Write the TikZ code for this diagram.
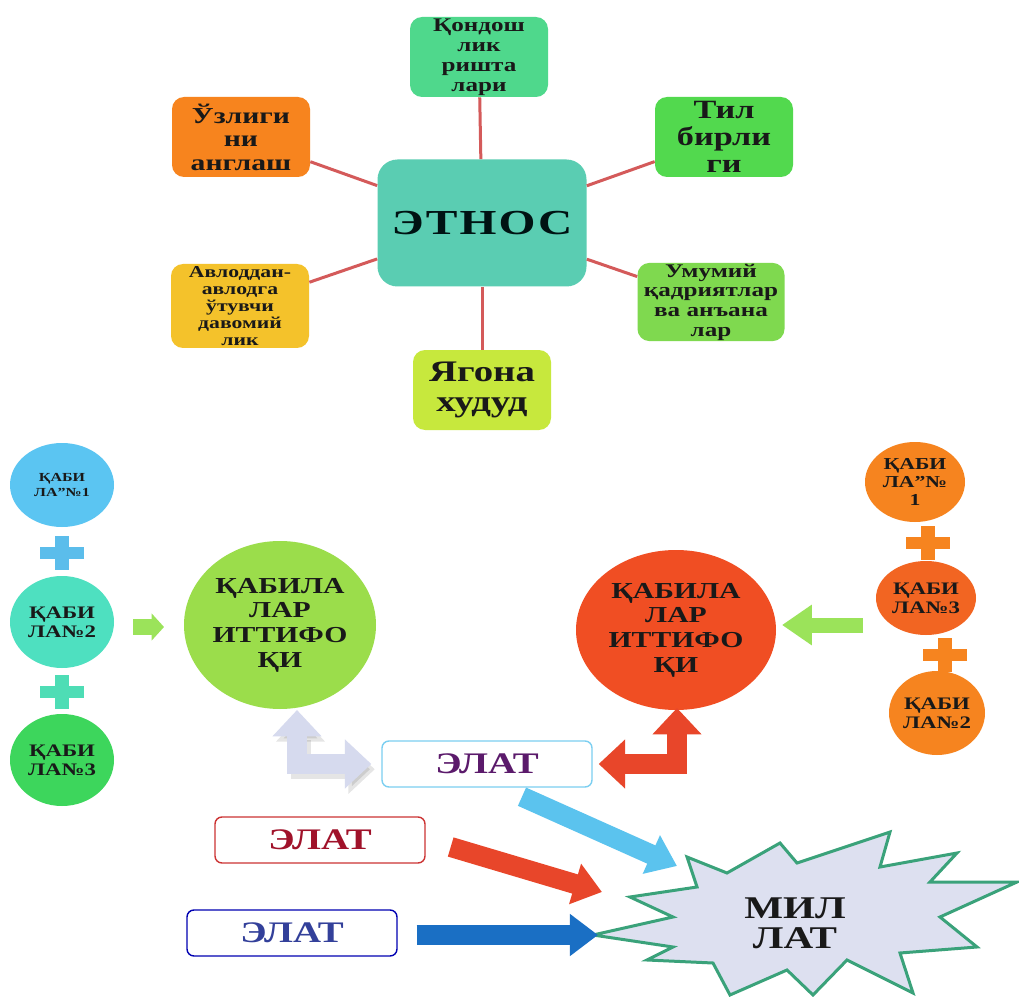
\documentclass[tikz,border=0pt]{standalone}
\usepackage{fontspec}
\newfontfamily\uzfont{Liberation Serif}[FakeStretch=1.3]
\newfontfamily\uzwide{Liberation Serif}[FakeStretch=1.35,LetterSpace=6]
\usetikzlibrary{arrows.meta,positioning,shapes.geometric}
\definecolor{ethnos}{HTML}{5ACDB2}
\definecolor{qondosh}{HTML}{4FD88C}
\definecolor{uzlik}{HTML}{F7841E}
\definecolor{til}{HTML}{52D94E}
\definecolor{avlod}{HTML}{F4C22B}
\definecolor{umumiy}{HTML}{7FD94F}
\definecolor{yagona}{HTML}{C7E83D}
\definecolor{linkred}{HTML}{D45A5A}
\definecolor{tribeA}{HTML}{5BC5F2}
\definecolor{tribeB}{HTML}{4EE0C0}
\definecolor{tribeC}{HTML}{3DD65C}
\definecolor{uniL}{HTML}{9BDD4B}
\definecolor{uniR}{HTML}{F04E23}
\definecolor{orA}{HTML}{F6841F}
\definecolor{orB}{HTML}{F26522}
\definecolor{plusA}{HTML}{5BBDEB}
\definecolor{plusB}{HTML}{4EDDB5}
\definecolor{lime}{HTML}{9BE35A}
\definecolor{bentgray}{HTML}{D6DAEE}
\definecolor{bentred}{HTML}{E8462A}
\definecolor{arrcyan}{HTML}{5BC3EE}
\definecolor{arrblue}{HTML}{1A6FC4}
\definecolor{elatpur}{HTML}{5B1A6B}
\definecolor{elatred}{HTML}{A0122A}
\definecolor{elatnav}{HTML}{33409A}
\definecolor{starfill}{HTML}{DDE0F0}
\definecolor{starline}{HTML}{3AA27A}
\newdimen\px \px=0.02cm
\tikzset{plussign/.pic={\fill (-22,-6) rectangle (22,6); \fill (-7,-17) rectangle (7,17);}}

\begin{document}
\begin{tikzpicture}[x=0.02cm, y=-0.02cm, font=\uzfont\bfseries,
  fs/.style 2 args={font=\uzfont\bfseries\fontsize{#1}{#2}\selectfont},
  box/.style={rounded corners=12\px, minimum width=138\px, minimum height=80\px, inner sep=0.5pt, align=center, text=black!90},
  link/.style={draw=linkred, line width=3\px},
  tribe/.style={ellipse, inner sep=0pt, align=center, text=black!90},
  elat/.style={draw, rounded corners=7\px, fill=white, minimum width=210\px, minimum height=46\px, line width=1.4\px, fs={17}{18}},
  blockarr/.style={line width=20\px, -{Triangle[width=23pt, length=16pt]}},
  bentarr/.style={line width=20\px, {Triangle[width=27pt, length=15pt]}-{Triangle[width=27pt, length=15pt]}}]
\useasboundingbox[fill=white] (0,0) rectangle (1019,997);

\node[box, fill=ethnos, minimum width=209\px, minimum height=127\px, rounded corners=20\px, font=\uzwide\bfseries\fontsize{20}{22}\selectfont, text=black!85!teal] (ethnos) at (482,223) {ЭТНОС};
\node[box, fill=qondosh, fs={11}{11.4}] (qondosh) at (479,57) {Қондош\\лик\\ришта\\лари};
\node[box, fill=uzlik, fs={13}{13.4}] (uzlik) at (241,137) {Ўзлиги\\ни\\англаш};
\node[box, fill=til, fs={15}{15.2}] (til) at (724,137) {Тил\\бирли\\ги};
\node[box, fill=avlod, minimum height=84\px, fs={9.5}{9.6}] (avlod) at (240,306) {Авлоддан-\\авлодга\\ўтувчи\\давомий\\лик};
\node[box, fill=umumiy, minimum width=147\px, minimum height=78\px, fs={11}{11.2}] (umumiy) at (711,302) {Умумий\\қадриятлар\\ва анъана\\лар};
\node[box, fill=yagona, fs={17}{17.2}] (yagona) at (482,390) {Ягона\\худуд};
\foreach \n in {qondosh,uzlik,til,avlod,umumiy,yagona}
  \draw[link] (ethnos) -- (\n);

\node[tribe, fill=tribeA, minimum width=104\px, minimum height=84\px, fs={7}{8}] (lA) at (62,485) {ҚАБИ\\ЛА”№1};
\node[tribe, fill=tribeB, minimum width=104\px, minimum height=92\px, fs={10}{11}] (lB) at (62,622) {ҚАБИ\\ЛА№2};
\node[tribe, fill=tribeC, minimum width=104\px, minimum height=92\px, fs={10}{11}] (lC) at (62,760) {ҚАБИ\\ЛА№3};
\pic[color=plusA] at (62,553) {plussign};
\pic[color=plusB] at (62,692) {plussign};
\node[tribe, fill=uniL, minimum width=192\px, minimum height=168\px, fs={13}{14}] (uniL) at (280,625) {ҚАБИЛА\\ЛАР\\ИТТИФО\\ҚИ};

\node[tribe, fill=orA, minimum width=100\px, minimum height=80\px, fs={9.5}{10}] (rA) at (915,482) {ҚАБИ\\ЛА”№\\1};
\node[tribe, fill=orB, minimum width=100\px, minimum height=74\px, fs={10}{11}] (rB) at (926,598) {ҚАБИ\\ЛА№3};
\node[tribe, fill=orA, minimum width=96\px, minimum height=84\px, fs={10}{11}] (rC) at (937,713) {ҚАБИ\\ЛА№2};
\pic[color=orA] at (928,543) {plussign};
\pic[color=orA] at (945,655) {plussign};
\node[tribe, fill=uniR, minimum width=200\px, minimum height=160\px, fs={13}{14}] (uniR) at (676,630) {ҚАБИЛА\\ЛАР\\ИТТИФО\\ҚИ};

\coordinate (gL) at (133,627);
\coordinate (gLtip) at (164,627);
\coordinate (gR) at (863,625);
\coordinate (gRtip) at (782,625);
\draw[lime, line width=16\px, -{Triangle[width=15pt, length=7pt]}] (gL) -- (gLtip);
\draw[lime, line width=15\px, -{Triangle[width=22pt, length=17pt]}] (gR) -- (gRtip);

\node[elat, draw=arrcyan!80, text=elatpur] (elatA) at (487,764) {ЭЛАТ};
\node[elat, draw=red!75!black!80, text=elatred] (elatB) at (320,840) {ЭЛАТ};
\node[elat, draw=blue!70!black, text=elatnav] (elatC) at (292,933) {ЭЛАТ};

\coordinate (gTop) at (297,710);
\coordinate (rTop) at (677,708);
\draw[bentarr, black, opacity=.1, transform canvas={xshift=2pt, yshift=-3pt}] (gTop) |- ([xshift=-10\px]elatA.west);
\draw[bentarr, bentgray] (gTop) |- ([xshift=-10\px]elatA.west);
\draw[bentarr, bentred] ([xshift=6\px]elatA.east) -| (rTop);

\draw[starline, fill=starfill, line width=3\px, line join=miter]
  (687,857) -- (727,873) -- (780,843) -- (797,863) -- (890,832) -- (880,867) -- (957,853) -- (930,882)
  -- (1017,882) -- (940,917) -- (977,947) -- (900,953) -- (913,993) -- (847,960) -- (813,995) -- (787,970)
  -- (730,995) -- (713,963) -- (647,960) -- (673,947) -- (593,935) -- (673,917) -- (630,897) -- (697,887) -- cycle;
\node[fs={18}{17}, align=center, text=black!90] (millat) at (795,923) {МИЛ\\ЛАТ};
\coordinate (stA) at (677,866);
\coordinate (stB) at (602,892);
\coordinate (stC) at (598,935);

\draw[blockarr, arrcyan] ([shift={(35,9)}]elatA.south) -- (stA);
\draw[blockarr, bentred] ([shift={(25,7)}]elatB.east) -- (stB);
\draw[blockarr, arrblue] ([shift={(19,2)}]elatC.east) -- (stC);
\end{tikzpicture}
\end{document}
